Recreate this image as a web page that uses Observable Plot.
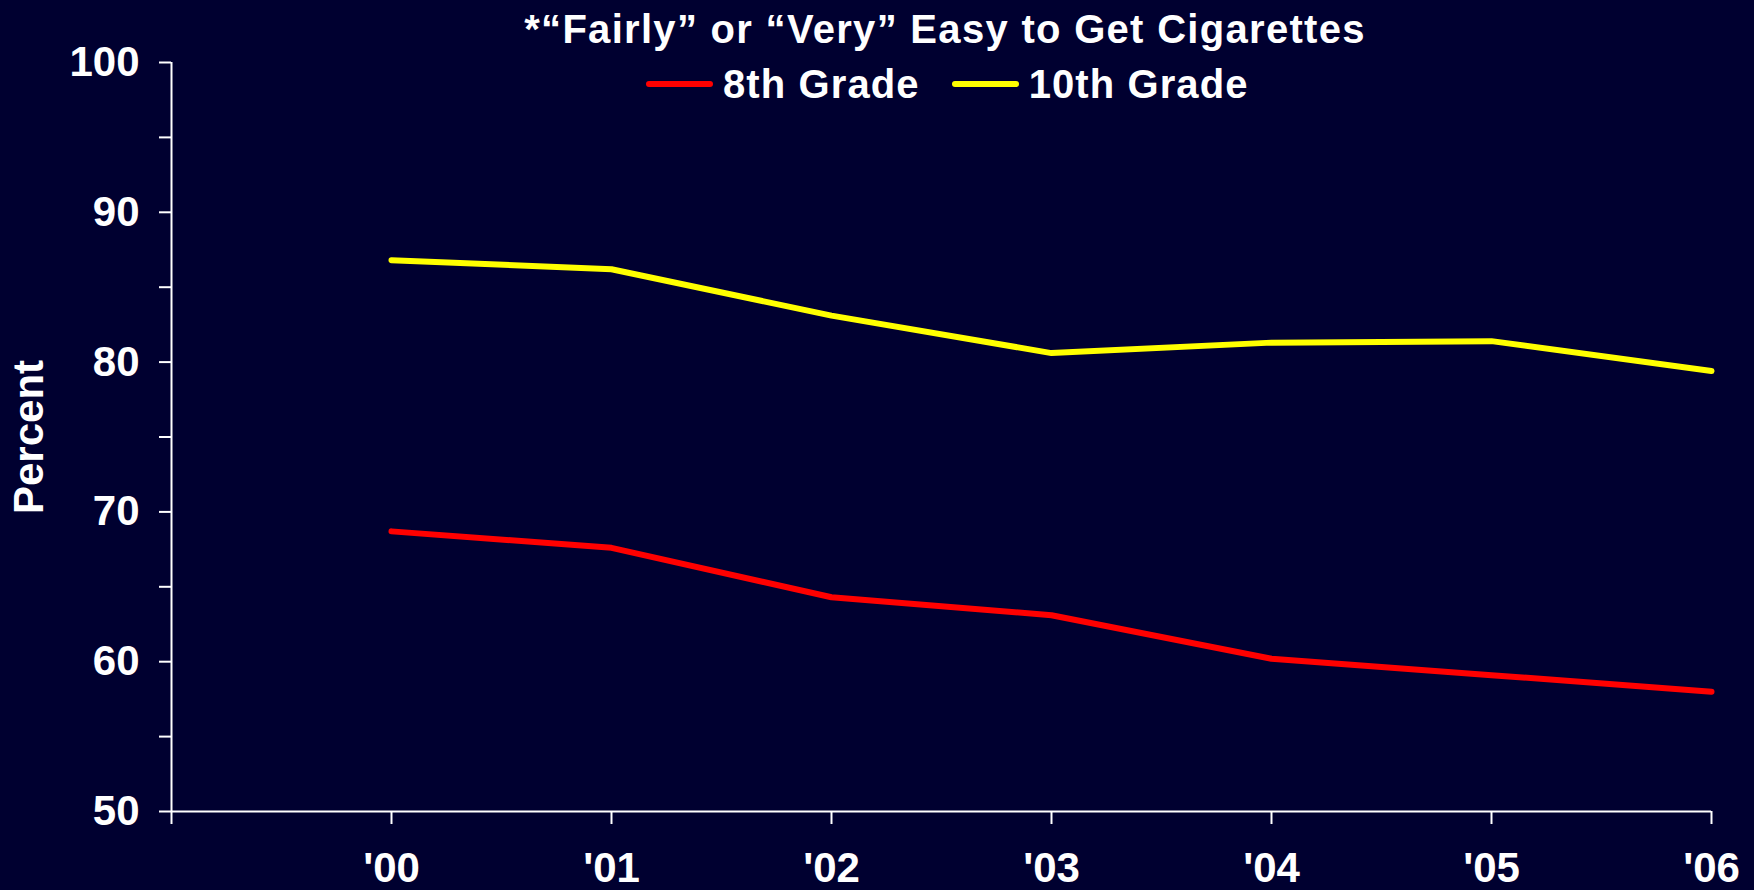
<!DOCTYPE html>
<html>
<head>
<meta charset="utf-8">
<script src="https://cdn.jsdelivr.net/npm/d3@7"></script>
<script src="https://cdn.jsdelivr.net/npm/@observablehq/plot@0.6"></script>
<style>
  html, body { margin: 0; padding: 0; background: #000030; }
  #wrap { position: relative; width: 1754px; height: 890px; background: #000030; overflow: hidden;
          font-family: "Liberation Sans", Arial, sans-serif; font-weight: bold; color: #fff; }
  #title { position: absolute; top: 9px; left: 945px; transform: translateX(-50%); white-space: nowrap;
           font-size: 40px; line-height: 40px; letter-spacing: 1.3px; }
  #legend { position: absolute; top: 64px; left: 646px; white-space: nowrap; font-size: 40px; line-height: 40px;
            display: flex; align-items: center; letter-spacing: 1.1px; }
  .sw { display: inline-block; width: 67px; height: 6px; border-radius: 3px; }
  #chart { position: absolute; left: 0; top: 0; }
</style>
</head>
<body>
<div id="wrap">
  <div id="chart"></div>
  <div id="title"></div>
  <div id="legend"></div>
</div>
<script>
const titleText = "*\u201CFairly\u201D or \u201CVery\u201D Easy to Get Cigarettes";
const years = [2000, 2001, 2002, 2003, 2004, 2005, 2006];
const xTickLabels = ["'00", "'01", "'02", "'03", "'04", "'05", "'06"];
const seriesNames = ["8th Grade", "10th Grade"];
const seriesColors = ["#FF0000", "#FFFF00"];
const grade8 = [68.7, 67.6, 64.3, 63.1, 60.2, 59.1, 58.0];
const grade10 = [86.8, 86.2, 83.1, 80.6, 81.3, 81.4, 79.4];
const yTicks = [50, 55, 60, 65, 70, 75, 80, 85, 90, 95, 100];
const yLabel = "Percent";

const data = [];
years.forEach((yr, i) => {
  data.push({year: yr, value: grade8[i], series: seriesNames[0]});
  data.push({year: yr, value: grade10[i], series: seriesNames[1]});
});

const xStart = years[0] - 1;
const xTicks = [xStart, ...years];
const labelFor = new Map(years.map((y, i) => [y, xTickLabels[i]]));

document.getElementById("title").textContent = titleText;
const legend = document.getElementById("legend");
seriesNames.forEach((name, i) => {
  const sw = document.createElement("span");
  sw.className = "sw";
  sw.style.background = seriesColors[i];
  sw.style.marginLeft = i === 0 ? "0px" : "32px";
  sw.style.marginRight = "10px";
  const t = document.createElement("span");
  t.textContent = name;
  legend.appendChild(sw);
  legend.appendChild(t);
});

const plot = Plot.plot({
  width: 1754,
  height: 890,
  marginLeft: 171,
  marginRight: 43,
  marginTop: 62,
  marginBottom: 79,
  style: {background: "#000030", color: "#fff", fontFamily: "'Liberation Sans', Arial, sans-serif", fontWeight: "bold"},
  x: {domain: [xStart, years[years.length - 1]]},
  y: {domain: [yTicks[0], yTicks[yTicks.length - 1]]},
  color: {domain: seriesNames, range: seriesColors},
  marks: [
    Plot.axisY({
      ticks: yTicks,
      tickFormat: d => d % 10 === 0 ? String(d) : "",
      tickSize: 12,
      tickPadding: 20,
      fontSize: 42,
      strokeWidth: 2,
      stroke: "#fff",
      label: yLabel,
      labelAnchor: "center",
      labelArrow: "none",
      labelOffset: 158
    }),
    Plot.axisX({
      ticks: xTicks,
      tickFormat: d => labelFor.get(d) || "",
      tickSize: 13,
      tickPadding: 28,
      fontSize: 42,
      strokeWidth: 2,
      stroke: "#fff",
      label: null
    }),
    Plot.ruleX([xStart], {stroke: "#fff", strokeWidth: 2}),
    Plot.ruleY([yTicks[0]], {stroke: "#fff", strokeWidth: 2}),
    Plot.line(data, {x: "year", y: "value", z: "series", stroke: "series", strokeWidth: 6,
                     strokeLinecap: "round", strokeLinejoin: "round"})
  ]
});
document.getElementById("chart").appendChild(plot);
</script>
</body>
</html>
